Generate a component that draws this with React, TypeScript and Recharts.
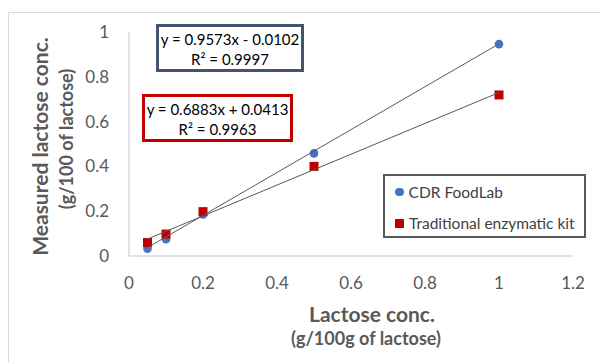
import React from "react";
import { ScatterChart, Scatter, XAxis, YAxis } from "recharts";

const xValues = [0.05, 0.1, 0.2, 0.5, 1];
const cdrValues = [0.033, 0.075, 0.185, 0.458, 0.946];
const tradValues = [0.06, 0.098, 0.198, 0.4, 0.719];
const xTicks = [0, 0.2, 0.4, 0.6, 0.8, 1, 1.2];
const yTicks = [0, 0.2, 0.4, 0.6, 0.8, 1];
const seriesNames = ["CDR FoodLab", "Traditional enzymatic kit"];
const cdrFit = { slope: 0.9573, intercept: -0.0102, r2: "0.9997" };
const tradFit = { slope: 0.6883, intercept: 0.0413, r2: "0.9963" };
const fitRange = [0.05, 1];

const cdrData = xValues.map((x, i) => ({ x, y: cdrValues[i] }));
const tradData = xValues.map((x, i) => ({ x, y: tradValues[i] }));
const fitLine = (f: { slope: number; intercept: number }) =>
  fitRange.map((x) => ({ x, y: f.slope * x + f.intercept }));

const FONT = "Lato, 'Open Sans', sans-serif";
const BLUE = "#4472c4";
const RED = "#c00000";
const GRAY = "#595959";

const fmt = (v: number) => String(v);

const Circle = (p: any) => <circle cx={p.cx} cy={p.cy} r={4.3} fill={BLUE} />;
const Square = (p: any) => (
  <rect x={p.cx - 4.5} y={p.cy - 4.5} width={9} height={9} fill={RED} />
);
const Nothing = () => <g />;

const eqText = (f: { slope: number; intercept: number }) =>
  `y = ${f.slope}x ${f.intercept < 0 ? "-" : "+"} ${Math.abs(f.intercept).toFixed(4)}`;

export default function App() {
  return (
    <div
      style={{
        position: "absolute",
        left: 0,
        top: 0,
        width: 600,
        height: 362,
        overflow: "hidden",
        background: "#fff",
        fontFamily: FONT,
      }}
    >
      <div
        style={{
          position: "absolute",
          left: 8,
          top: 12,
          width: 700,
          height: 500,
          border: "1px solid #d9d9d9",
        }}
      />
      <div style={{ position: "absolute", left: 0, top: 0 }}>
        <ScatterChart
          width={600}
          height={362}
          margin={{ top: 32, right: 27, bottom: 0, left: 0 }}
        >
          <XAxis
            type="number"
            dataKey="x"
            domain={[0, 1.2]}
            ticks={xTicks}
            tickFormatter={fmt}
            height={106}
            tickLine={false}
            tickMargin={15}
            axisLine={{ stroke: "#d9d9d9", strokeWidth: 1.5 }}
            tick={{ fill: GRAY, fontSize: 17, fontFamily: FONT }}
            interval={0}
          />
          <YAxis
            type="number"
            dataKey="y"
            domain={[0, 1]}
            ticks={yTicks}
            tickFormatter={fmt}
            width={129}
            tickLine={false}
            tickMargin={14}
            axisLine={{ stroke: "#d9d9d9", strokeWidth: 1.5 }}
            tick={{ fill: GRAY, fontSize: 17, fontFamily: FONT }}
            interval={0}
          />
          <Scatter
            name={seriesNames[0]}
            data={cdrData}
            shape={Circle}
            isAnimationActive={false}
          />
          <Scatter
            name={seriesNames[1]}
            data={tradData}
            shape={Square}
            isAnimationActive={false}
          />
          <Scatter
            data={fitLine(cdrFit)}
            line={{ stroke: GRAY, strokeWidth: 1 }}
            shape={Nothing}
            legendType="none"
            isAnimationActive={false}
          />
          <Scatter
            data={fitLine(tradFit)}
            line={{ stroke: GRAY, strokeWidth: 1 }}
            shape={Nothing}
            legendType="none"
            isAnimationActive={false}
          />
        </ScatterChart>
      </div>
      <svg
        width={600}
        height={362}
        style={{ position: "absolute", left: 0, top: 0, pointerEvents: "none" }}
      >
        <text
          x={48}
          y={146.5}
          transform="rotate(-90 48 146.5)"
          textAnchor="middle"
          fill={GRAY}
          fontFamily={FONT}
          fontWeight={700}
          fontSize={21}
        >
          Measured lactose conc.
        </text>
        <text
          x={73}
          y={139}
          transform="rotate(-90 73 139)"
          textAnchor="middle"
          fill={GRAY}
          fontFamily={FONT}
          fontWeight={700}
          fontSize={18}
        >
          (g/100 of lactose)
        </text>
        <text
          x={372}
          y={322}
          textAnchor="middle"
          fill={GRAY}
          fontFamily={FONT}
          fontWeight={700}
          fontSize={21}
        >
          Lactose conc.
        </text>
        <text
          x={366}
          y={345}
          textAnchor="middle"
          fill={GRAY}
          fontFamily={FONT}
          fontWeight={700}
          fontSize={18}
        >
          (g/100g of lactose)
        </text>
      </svg>
      {[
        { f: cdrFit, left: 156, top: 24, w: 148, color: "#44546a" },
        { f: tradFit, left: 142, top: 94, w: 151, color: RED },
      ].map((b, i) => (
        <div
          key={i}
          style={{
            position: "absolute",
            left: b.left,
            top: b.top,
            width: b.w,
            height: 48,
            boxSizing: "border-box",
            border: `3px solid ${b.color}`,
            background: "#fff",
            color: "#000",
            fontSize: 15,
            lineHeight: "20px",
            textAlign: "center",
            paddingTop: 2,
            whiteSpace: "nowrap",
          }}
        >
          <div>{eqText(b.f)}</div>
          <div>R² = {b.f.r2}</div>
        </div>
      ))}
      <div
        style={{
          position: "absolute",
          left: 383,
          top: 174,
          width: 203,
          height: 64,
          boxSizing: "border-box",
          border: `2px solid ${GRAY}`,
          background: "#fff",
          color: "#404040",
          fontSize: 15.5,
        }}
      >
        {[
          { name: seriesNames[0], color: BLUE, round: true, top: 6 },
          { name: seriesNames[1], color: RED, round: false, top: 37 },
        ].map((it, i) => (
          <div
            key={i}
            style={{
              position: "absolute",
              left: 10,
              top: it.top,
              height: 20,
              display: "flex",
              alignItems: "center",
              whiteSpace: "nowrap",
            }}
          >
            <span
              style={{
                display: "inline-block",
                width: it.round ? 8.6 : 9,
                height: it.round ? 8.6 : 9,
                borderRadius: it.round ? "50%" : 0,
                background: it.color,
                marginRight: 5,
              }}
            />
            {it.name}
          </div>
        ))}
      </div>
    </div>
  );
}
